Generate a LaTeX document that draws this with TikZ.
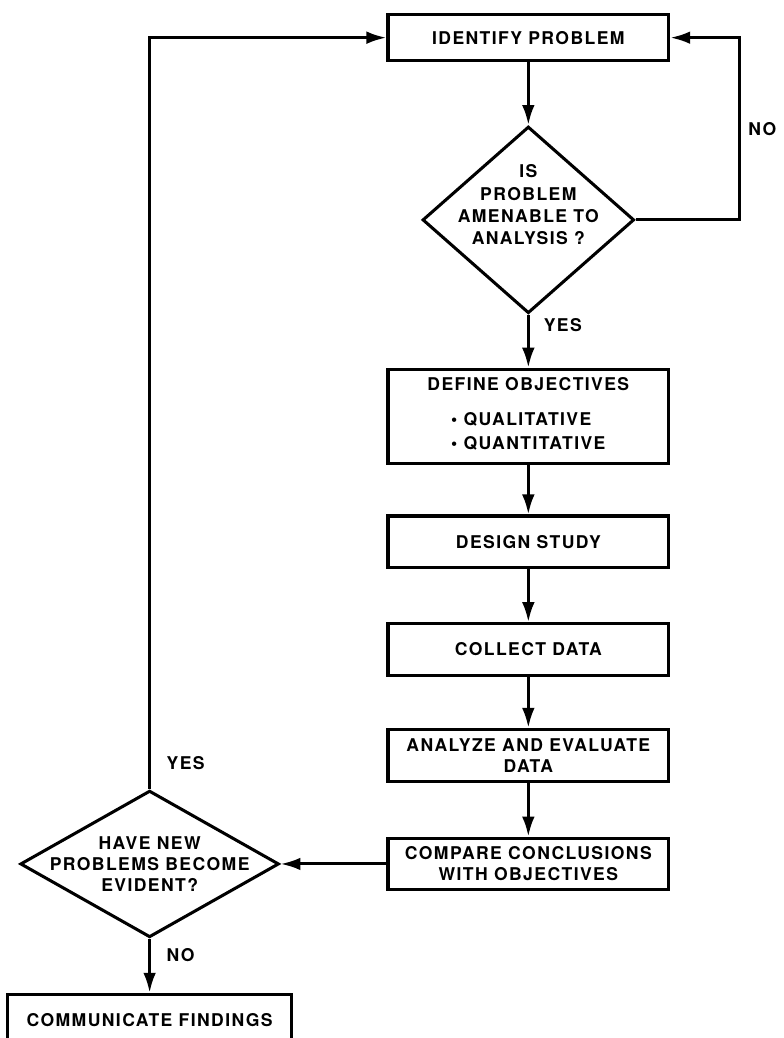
\documentclass[tikz,border=0pt]{standalone}
\usepackage{fontspec}
\setmainfont{TeX Gyre Heros}[LetterSpace=8]
\usetikzlibrary{positioning,arrows.meta,shapes.geometric}

\begin{document}
\begin{tikzpicture}[
    node distance=1.55cm,
    line width=2.6pt,
    every node/.style={font=\fontsize{15}{18}\selectfont\bfseries},
    stepbox/.style={rectangle, draw, minimum width=8.42cm, minimum height=1.55cm,
        align=center, inner sep=2pt},
    decision/.style={diamond, draw, inner sep=0pt},
    flow/.style={-{Latex[length=0.6cm, width=0.38cm]}},
]
\useasboundingbox (0,0) rectangle (23.49,-31.14);
\node[stepbox, minimum height=1.37cm] (identify) at (15.85,-1.13) {IDENTIFY PROBLEM};
\node[decision, minimum width=6.35cm, minimum height=5.6cm, below=1.89cm of identify,
    label={[align=center, yshift=0.45cm]center:IS\\[1pt]PROBLEM\\[1pt]AMENABLE TO\\[1pt]ANALYSIS ?}] (amenable) {};
\node[stepbox, minimum height=2.84cm, below=1.59cm of amenable] (define)
    {DEFINE OBJECTIVES\\[12pt]\begin{tabular}[t]{@{}l@{}}\textbullet\ QUALITATIVE\\[3pt]\textbullet\ QUANTITATIVE\end{tabular}};
\node[stepbox, below=1.47cm of define] (design) {DESIGN STUDY};
\node[stepbox, below=1.59cm of design] (collect) {COLLECT DATA};
\node[stepbox, below=1.53cm of collect] (analyze) {ANALYZE AND EVALUATE\\DATA};
\node[stepbox, below=1.62cm of analyze] (compare) {COMPARE CONCLUSIONS\\WITH OBJECTIVES};
\node[decision, minimum width=7.76cm, minimum height=4.4cm, left=3.18cm of compare,
    label={[align=center]center:HAVE NEW\\PROBLEMS BECOME\\EVIDENT?}] (evident) {};
\node[stepbox, minimum width=8.54cm, below=1.62cm of evident] (communicate) {COMMUNICATE FINDINGS};

\draw[flow] (identify) -- (amenable);
\draw[flow] (amenable) -- (define) node[pos=0.2, right=0.3cm] {YES};
\draw[flow] (amenable.east) -- ++(3.1,0) |- (identify.east) node[pos=0.25, right=0.12cm] {NO};
\draw[flow] (define) -- (design);
\draw[flow] (design) -- (collect);
\draw[flow] (collect) -- (analyze);
\draw[flow] (analyze) -- (compare);
\draw[flow] (compare) -- (evident);
\draw[flow] (evident.north) |- (identify.west) node[pos=0.017, right=0.35cm] {YES};
\draw[flow] (evident) -- (communicate) node[pos=0.3, right=0.35cm] {NO};
\end{tikzpicture}
\end{document}
